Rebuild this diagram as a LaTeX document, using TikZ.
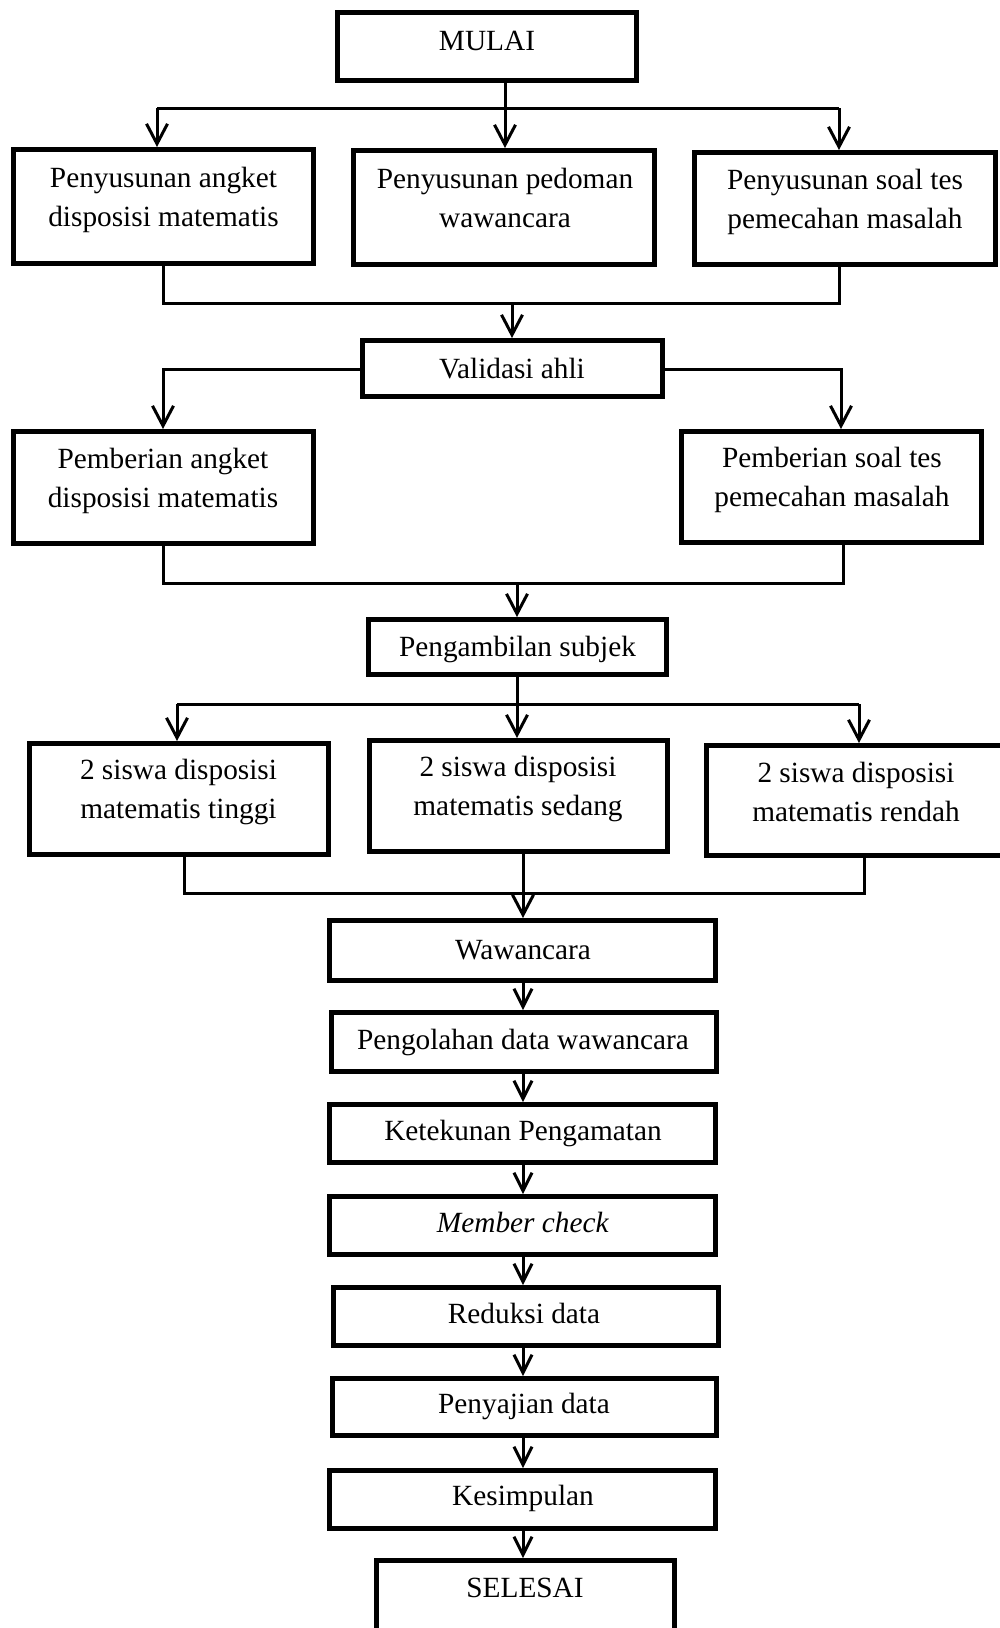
\documentclass[tikz,border=0pt]{standalone}
\usepackage{fontspec}
\setmainfont{Liberation Serif}
\usetikzlibrary{arrows.meta}
\tikzset{
  box/.style={draw, line width=2.3pt, inner sep=0pt},
  txt/.style={align=center, inner sep=0pt, font=\fontsize{14.65pt}{19.2pt}\selectfont, anchor=base},
  conn/.style={line width=1.5pt},
  arr/.style={conn, -{Straight Barb[length=10pt,width=10.5pt]}},
  arrs/.style={conn, -{Straight Barb[length=9pt,width=9pt]}},
}
\newcommand\bx[5]{\node[box, minimum width={(#4-#2-4.6)*0.5pt}, minimum height={(#5-#3-4.6)*0.5pt}] (#1) at ({(#2+#4)/2},{(#3+#5)/2}) {};}
\begin{document}
\begin{tikzpicture}[x=0.5pt,y=-0.5pt]
\fill[white] (0,0) rectangle (1000,1628);
\useasboundingbox (0,0) rectangle (1000,1628);

% top
\bx{mulai}{335}{10}{639}{83}
\node[txt] (mulait) at (487,50) {MULAI};

\bx{A}{11}{147}{316}{266}
\node[txt] (At) at (163.5,226) {Penyusunan angket\\disposisi matematis};
\bx{B}{351}{148}{657}{267}
\node[txt] (Bt) at (505,227) {Penyusunan pedoman\\wawancara};
\bx{C}{692}{150}{998}{267}
\node[txt] (Ct) at (845,228) {Penyusunan soal tes\\pemecahan masalah};

\coordinate (s1) at (505,108);
\coordinate (sA) at (157,108);
\coordinate (sC) at (839,108);
\draw[conn] (mulai.south -| s1) -- (s1);
\draw[conn] (sA) -- (sC);
\draw[arr] (sA) -- (sA |- A.north);
\draw[arr] (s1) -- (s1 |- B.north);
\draw[arr] (sC) -- (sC |- C.north);

% validasi
\bx{V}{360}{338}{665}{399}
\node[txt] (Vt) at (512,378) {Validasi ahli};
\coordinate (jA) at (163,303);
\coordinate (jC) at (839,303);
\coordinate (j1) at (512,303);
\draw[conn] (A.south -| jA) -- (jA) -- (jC) -- (C.south -| jC);
\draw[arr] (j1) -- (j1 |- V.north);

\bx{PA}{11}{429}{316}{546}
\node[txt] (PAt) at (163,507) {Pemberian angket\\disposisi matematis};
\bx{PS}{679}{429}{984}{545}
\node[txt] (PSt) at (832,506) {Pemberian soal tes\\pemecahan masalah};
\coordinate (vL) at (163,369);
\coordinate (vR) at (841,369);
\draw[arr] (V.west |- vL) -- (vL) -- (vL |- PA.north);
\draw[arr] (V.east |- vR) -- (vR) -- (vR |- PS.north);

% pengambilan
\bx{PG}{366}{617}{669}{677}
\node[txt] (PGt) at (517.5,656) {Pengambilan subjek};
\coordinate (kA) at (163,583);
\coordinate (kS) at (843,583);
\coordinate (k1) at (517,583);
\draw[conn] (PA.south -| kA) -- (kA) -- (kS) -- (PS.south -| kS);
\draw[arr] (k1) -- (k1 |- PG.north);

\bx{T}{27}{741}{331}{857}
\node[txt] (Tt) at (178.5,818) {2 siswa disposisi\\matematis tinggi};
\bx{S}{367}{738}{670}{854}
\node[txt] (St) at (518,815) {2 siswa disposisi\\matematis sedang};
\bx{R}{704}{743}{1008}{858}
\node[txt] (Rt) at (856,821) {2 siswa disposisi\\matematis rendah};

\coordinate (m1) at (517,704);
\coordinate (mT) at (177,704);
\coordinate (mR) at (859,704);
\draw[conn] (PG.south -| m1) -- (m1);
\draw[conn] (mT) -- (mR);
\draw[arr] (mT) -- (mT |- T.north);
\draw[arr] (m1) -- (m1 |- S.north);
\draw[arr] (mR) -- (mR |- R.north);

% chain
\bx{W}{327}{918}{718}{983}
\node[txt] (Wt) at (523,959) {Wawancara};
\bx{P2}{329}{1010}{719}{1074}
\node[txt] (P2t) at (523,1049) {Pengolahan data wawancara};
\bx{K}{327}{1102}{718}{1165}
\node[txt] (Kt) at (523,1140) {Ketekunan Pengamatan};
\bx{M}{327}{1194}{718}{1257}
\node[txt] (Mt) at (523,1232) {\textit{Member check}};
\bx{RD}{331}{1285}{721}{1348}
\node[txt] (RDt) at (524,1323) {Reduksi data};
\bx{PY}{330}{1376}{719}{1438}
\node[txt] (PYt) at (524,1413) {Penyajian data};
\bx{KS}{327}{1468}{718}{1531}
\node[txt] (KSt) at (523,1505) {Kesimpulan};
\bx{SE}{374}{1558}{677}{1660}
\node[txt] (SEt) at (525,1597) {SELESAI};

\coordinate (nT) at (184,893);
\coordinate (nR) at (864,893);
\coordinate (n1) at (523,893);
\draw[conn] (T.south -| nT) -- (nT) -- (nR) -- (R.south -| nR);
\draw[arr] (S.south -| n1) -- (n1 |- W.north);

\foreach \a/\b in {W/P2,P2/K,K/M,M/RD,RD/PY,PY/KS,KS/SE}
  \draw[arrs] (\a.south -| n1) -- (n1 |- \b.north);
\end{tikzpicture}
\end{document}
